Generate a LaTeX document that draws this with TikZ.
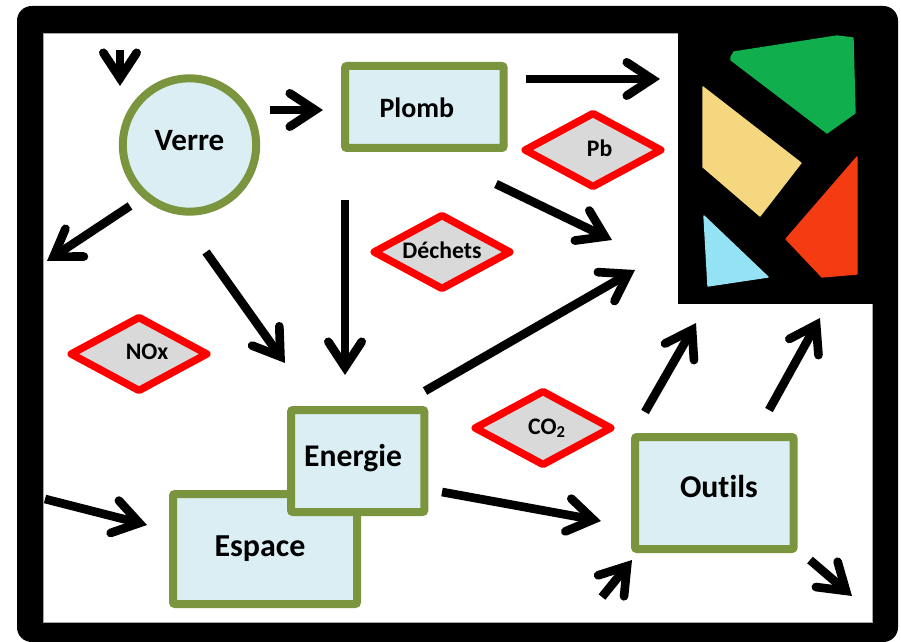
\documentclass[tikz,border=0pt]{standalone}
\usepackage{fontspec}
\setmainfont[Ligatures=CommonOff]{Carlito}
\usetikzlibrary{arrows.meta,shapes.geometric}
\definecolor{boxfill}{HTML}{DAEEF3}
\definecolor{boxline}{HTML}{7A953D}
\definecolor{dfill}{HTML}{D9D9D9}
\definecolor{gl1}{HTML}{10AE4C}
\definecolor{gl2}{HTML}{F4D77E}
\definecolor{gl3}{HTML}{F43B12}
\definecolor{gl4}{HTML}{93E3F5}
\newcommand{\fs}[1]{\fontsize{#1}{#1}\selectfont\bfseries}
\tikzset{
  x=0.75pt,y=-0.75pt,
  box/.style={draw=boxline,fill=boxfill,line width=6pt,rounded corners=1.5pt,inner sep=0pt,anchor=north west},
  disc/.style={draw=boxline,fill=boxfill,line width=6pt,circle,inner sep=0pt,minimum size=100pt},
  risk/.style={draw=red,fill=dfill,line width=5.6pt,diamond,line join=round,inner sep=0pt,minimum width=104pt,minimum height=57pt},
  flow/.style={line width=6.5pt,-{Straight Barb[length=19pt,width=25pt,line cap=round,line join=miter]}},
  lab/.style={text=black,inner sep=0pt},
  pane/.style={draw=#1,fill=#1,line width=1pt,line join=round},
}
\begin{document}
\begin{tikzpicture}
\useasboundingbox (0,0) rectangle (901,642);
\fill[white] (0,0) rectangle (901,642);
% frame
\fill[black,rounded corners=11pt] (17,6) rectangle (898,642);
\filldraw[fill=white,draw=black!35,line width=.4pt] (43,33) rectangle (872,622);
% window
\fill[black] (678,30) rectangle (875,304);
\path[pane=gl1] (731,57) -- (734,52) -- (837,36) -- (853,38) -- (855,113) -- (827,133) -- (731,60) -- cycle;
\path[pane=gl2] (703,87) -- (801,163) -- (760,216) -- (703,167) -- cycle;
\path[pane=gl3] (857,157) -- (857,274) -- (822,277) -- (786,239) -- cycle;
\path[pane=gl4] (704,216) -- (768,277) -- (708,286) -- cycle;
% nodes
\node[disc,label={[lab,yshift=3.5pt]center:\fs{23.3}Verre}] (verre) at (189.5,145) {};
\node[box,minimum width=119pt,minimum height=61.5pt,label={[lab,xshift=-5.6pt,yshift=-0.5pt]center:\fs{21}Plomb}] (plomb) at (341,62) {};
\node[box,minimum width=138pt,minimum height=82.5pt,label={[lab,xshift=-3.75pt,yshift=0.5pt]center:\fs{24}Espace}] (espace) at (169,490) {};
\node[box,minimum width=100pt,minimum height=76.5pt,label={[lab,xshift=-3.4pt,yshift=2.5pt]center:\fs{23.7}Energie}] (energie) at (287,406) {};
\node[box,minimum width=119pt,minimum height=84pt,label={[lab,xshift=3.4pt,yshift=5.25pt]center:\fs{23.8}Outils}] (outils) at (631,433) {};
\node[risk,label={[lab,xshift=5pt,yshift=1.5pt]center:\fs{17.8}Pb}] (pb) at (593,150) {};
\node[risk,label={[lab,yshift=1.5pt]center:\fs{17.8}Déchets}] (dechets) at (442,252) {};
\node[risk,label={[lab,xshift=6pt,yshift=1.5pt]center:\fs{17.8}NOx}] (nox) at (139,354) {};
\node[risk,label={[lab,xshift=3pt,yshift=0pt]center:\fs{17.8}CO\textsubscript{2}}] (co) at (543,428) {};
% connector ends
\coordinate (a1) at (120,50);   \coordinate (b1) at (120,86);
\coordinate (a2) at (270,110);  \coordinate (b2) at (323,110);
\coordinate (a3) at (526,79);   \coordinate (b3) at (660,79);
\coordinate (a4) at (496,184);  \coordinate (b4) at (612,240);
\coordinate (a5) at (345,200);  \coordinate (b5) at (345,375);
\coordinate (a6) at (130,206);  \coordinate (b6) at (47,261);
\coordinate (a7) at (206,252);  \coordinate (b7) at (285,363);
\coordinate (a8) at (425,391);  \coordinate (b8) at (635,270);
\coordinate (a9) at (45,499);   \coordinate (b9) at (147,525);
\coordinate (a10) at (442,492); \coordinate (b10) at (601,521);
\coordinate (a11) at (645,412); \coordinate (b11) at (696,323);
\coordinate (a12) at (769,410); \coordinate (b12) at (820,318);
\coordinate (a13) at (602,597); \coordinate (b13) at (632,560);
\coordinate (a14) at (810,560); \coordinate (b14) at (852,596);
\foreach \i in {1,...,14} \draw[flow] (a\i) -- (b\i);
\end{tikzpicture}
\end{document}
